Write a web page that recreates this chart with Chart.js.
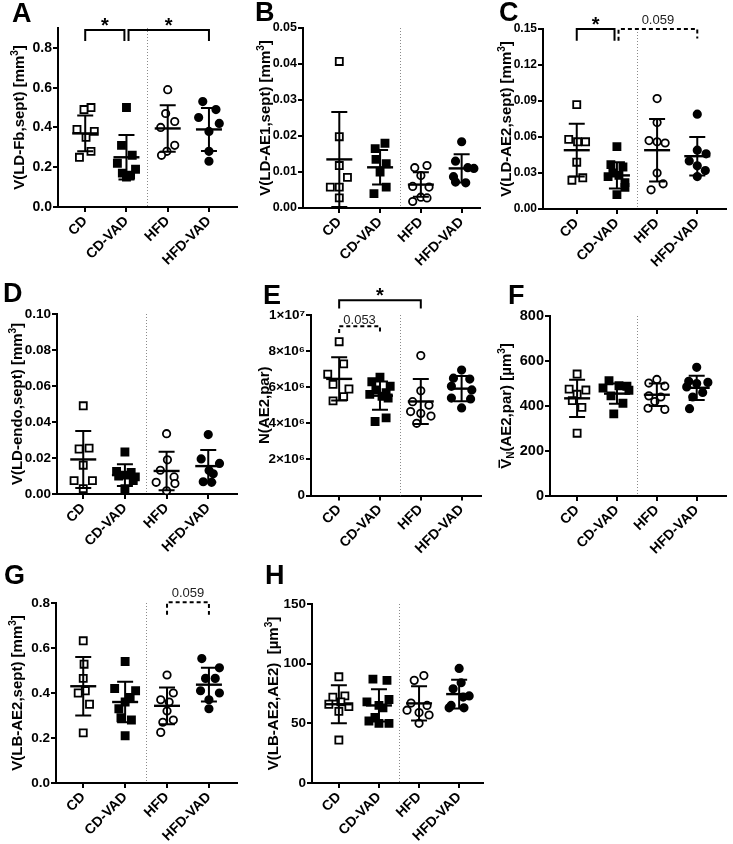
<!DOCTYPE html>
<html>
<head>
<meta charset="utf-8">
<script src="https://cdn.jsdelivr.net/npm/chart.js@4.4.1/dist/chart.umd.min.js"></script>
<style>
  body { margin: 0; background: #fff; }
  #fig { position: relative; width: 733px; height: 844px; overflow: hidden; font-family: 'Liberation Sans', Arial, sans-serif; }
  #fig canvas { position: absolute; }
  .letter { position: absolute; font-weight: bold; font-size: 27px; line-height: 1; color: #000; }
</style>
</head>
<body>
<div id="fig"></div>
<script>
// Groups, in plotting order: CD (open squares), CD-VAD (filled squares),
// HFD (open circles), HFD-VAD (filled circles).
const CATS = ["CD", "CD-VAD", "HFD", "HFD-VAD"];

// --- A: V(LD-Fb,sept) [mm3]
const A_VALUES = [
  [0.50, 0.49, 0.39, 0.38, 0.35, 0.28, 0.25],
  [0.50, 0.31, 0.26, 0.22, 0.19, 0.17, 0.16, 0.15],
  [0.59, 0.47, 0.43, 0.40, 0.31, 0.28, 0.26],
  [0.53, 0.49, 0.45, 0.42, 0.38, 0.28, 0.23],
];
const A_JITTER = [
  [0.14, -0.03, -0.2, 0.22, 0.02, 0.14, -0.14],
  [0, -0.12, 0.14, -0.22, 0.22, -0.1, 0.1, 0],
  [0, -0.05, 0.17, -0.17, 0.17, -0.02, -0.15],
  [-0.15, 0.17, -0.25, 0.25, 0, 0, 0],
];
const A_MEAN = [0.37, 0.25, 0.395, 0.39];
const A_SD = [0.09, 0.112, 0.117, 0.108];
const A_TICKS = [0, 0.2, 0.4, 0.6, 0.8];

// --- B: V(LD-AE1,sept) [mm3]
const B_VALUES = [
  [0.0407, 0.0198, 0.0118, 0.0085, 0.0058, 0.0058, 0.0028],
  [0.0180, 0.0165, 0.0135, 0.0123, 0.0100, 0.0058, 0.0040],
  [0.0118, 0.0112, 0.0090, 0.0060, 0.0058, 0.0030, 0.0018, 0.0028],
  [0.0184, 0.0130, 0.0112, 0.0110, 0.0087, 0.0072, 0.0070],
];
const B_JITTER = [
  [0, 0, 0, 0.2, -0.22, 0, 0],
  [0.12, -0.12, -0.1, 0.15, 0, 0.15, -0.15],
  [0.15, -0.15, 0, -0.2, 0.2, 0, -0.2, 0.15],
  [0, -0.15, 0.15, 0.3, -0.2, -0.15, 0.1],
];
const B_MEAN = [0.0135, 0.0113, 0.0065, 0.011];
const B_SD = [0.0132, 0.0048, 0.0034, 0.0039];
const B_TICKS = [0, 0.01, 0.02, 0.03, 0.04, 0.05];

// --- C: V(LD-AE2,sept) [mm3]
const C_VALUES = [
  [0.087, 0.058, 0.056, 0.056, 0.039, 0.026, 0.024],
  [0.052, 0.037, 0.035, 0.030, 0.028, 0.027, 0.022, 0.018, 0.012],
  [0.092, 0.072, 0.057, 0.056, 0.055, 0.030, 0.016, 0.021],
  [0.079, 0.049, 0.046, 0.040, 0.036, 0.032, 0.027],
];
const C_JITTER = [
  [0, -0.2, 0.02, 0.22, 0, 0.15, -0.12],
  [0, -0.15, 0.15, -0.1, 0.05, -0.22, 0.2, 0.2, 0],
  [0, 0, -0.2, 0, 0.2, 0, -0.15, 0.15],
  [0, 0, 0.22, -0.2, 0, 0.2, 0],
];
const C_MEAN = [0.049, 0.028, 0.049, 0.044];
const C_SD = [0.022, 0.011, 0.026, 0.016];
const C_TICKS = [0, 0.03, 0.06, 0.09, 0.12, 0.15];

// --- D: V(LD-endo,sept) [mm3]
const D_VALUES = [
  [0.049, 0.025, 0.0255, 0.016, 0.0074, 0.0074, 0.003],
  [0.0233, 0.0125, 0.012, 0.0105, 0.010, 0.0095, 0.0075, 0.003],
  [0.0335, 0.019, 0.0132, 0.0095, 0.0065, 0.0058, 0.0018],
  [0.033, 0.0195, 0.017, 0.013, 0.0112, 0.0068, 0.0065],
];
const D_JITTER = [
  [0, -0.1, 0.14, 0, -0.22, 0.22, 0],
  [0, -0.2, 0.15, 0, -0.15, 0.25, 0.2, 0],
  [0, 0.02, -0.15, 0.18, -0.25, 0.2, 0],
  [0, -0.17, 0.27, 0.02, 0.12, -0.12, 0.08],
];
const D_MEAN = [0.0192, 0.0105, 0.0128, 0.0155];
const D_SD = [0.0158, 0.006, 0.0107, 0.009];
const D_TICKS = [0, 0.02, 0.04, 0.06, 0.08, 0.10];

// --- E: N(AE2,par)
const E_VALUES = [
  [8.52e6, 7.29e6, 6.72e6, 6.16e6, 5.90e6, 5.48e6, 5.24e6],
  [6.55e6, 6.30e6, 6.05e6, 5.85e6, 5.70e6, 5.60e6, 5.50e6, 5.40e6, 4.30e6, 4.10e6],
  [7.75e6, 5.80e6, 5.20e6, 5.00e6, 4.65e6, 4.55e6, 4.40e6, 4.00e6],
  [6.95e6, 6.50e6, 6.45e6, 6.05e6, 5.85e6, 5.40e6, 5.35e6, 4.85e6],
];
const E_JITTER = [
  [0, 0.11, -0.28, -0.15, 0.24, 0.11, -0.15],
  [0, -0.2, 0.25, -0.1, 0.15, -0.25, 0.05, 0.2, 0.15, -0.12],
  [0, 0, -0.2, 0.2, -0.25, 0, 0.25, -0.1],
  [0, -0.2, 0.2, -0.25, 0.25, -0.25, 0.22, 0],
];
const E_MEAN = [6.46e6, 5.53e6, 5.21e6, 5.92e6];
const E_SD = [1.2e6, 0.78e6, 1.25e6, 0.7e6];
const E_TICKS = [0, 2e6, 4e6, 6e6, 8e6, 1e7];

// --- F: mean volume VN(AE2,par) [um3]
const F_VALUES = [
  [542, 475, 471, 452, 424, 394, 279],
  [512, 490, 488, 480, 470, 445, 412, 365],
  [518, 502, 488, 445, 440, 420, 390, 385],
  [572, 510, 505, 500, 485, 460, 440, 388],
];
const F_JITTER = [
  [0, -0.2, 0.22, 0, -0.12, 0.12, 0],
  [-0.2, 0.05, 0.25, -0.35, 0.3, -0.15, 0.15, -0.08],
  [0, -0.2, 0.2, -0.2, 0.1, -0.05, -0.22, 0.2],
  [0, -0.2, 0.28, 0, -0.25, 0.15, -0.1, -0.18],
];
const F_MEAN = [434, 455, 450, 481];
const F_SD = [83, 45, 50, 54];
const F_TICKS = [0, 200, 400, 600, 800];

// --- G: V(LB-AE2,sept) [mm3]
const G_VALUES = [
  [0.632, 0.528, 0.465, 0.41, 0.40, 0.35, 0.223],
  [0.54, 0.42, 0.41, 0.38, 0.36, 0.33, 0.29, 0.28, 0.21],
  [0.48, 0.40, 0.37, 0.36, 0.32, 0.28, 0.27, 0.225],
  [0.553, 0.512, 0.465, 0.465, 0.41, 0.40, 0.37, 0.33],
];
const G_JITTER = [
  [0, 0.02, 0, 0.05, -0.12, 0.15, 0],
  [0, -0.25, 0.25, 0.12, 0, -0.15, -0.1, 0.15, 0],
  [0, 0.15, -0.15, 0.05, 0, 0.15, -0.1, -0.15],
  [-0.17, 0.25, -0.08, 0.15, -0.2, 0.25, 0, 0],
];
const G_MEAN = [0.43, 0.36, 0.343, 0.437];
const G_SD = [0.13, 0.09, 0.082, 0.075];
const G_TICKS = [0, 0.2, 0.4, 0.6, 0.8];

// --- H: V(LB-AE2,AE2) [um3]
const H_VALUES = [
  [89, 73, 72, 68, 66, 64, 60, 36],
  [87, 86, 70, 68, 65, 63, 55, 52, 50, 50],
  [90, 86, 67, 65, 61, 59, 57, 50],
  [96, 84, 79, 73, 72, 65, 63, 63],
];
const H_JITTER = [
  [0, 0.15, -0.15, 0.05, -0.25, 0.25, 0, 0],
  [-0.15, 0.2, 0.25, -0.3, 0, 0.1, -0.1, -0.25, 0, 0.25],
  [0.12, -0.12, -0.2, 0.2, -0.3, 0, 0.25, 0],
  [0, 0.05, -0.15, 0.25, 0.1, -0.2, -0.25, 0.12],
];
const H_MEAN = [66, 65, 66.7, 74.5];
const H_SD = [16, 13.5, 14.3, 12];
const H_TICKS = [0, 50, 100, 150];

// canvas ctx.font can't take CSS vars, so spell the stack out
const FF = "'Liberation Sans', Arial, sans-serif";
Chart.defaults.font.family = FF;

const GROUP_STYLE = [
  { shape: "rect", fill: false },
  { shape: "rect", fill: true },
  { shape: "circle", fill: false },
  { shape: "circle", fill: true },
];

const SUP = { 6: "\u2076", 7: "\u2077" };
const sciFmt = (v) => {
  if (v === 0) return "0";
  const e = Math.floor(Math.log10(v));
  return Math.round(v / Math.pow(10, e)) + "\u00d710" + SUP[e];
};

// titles are lists of text runs so superscripts / subscripts / overbars work
const mm3 = (name) => [{ t: name + " [mm" }, { t: "3", sup: true }, { t: "]" }];

const PANELS = [
  {
    id: "A", letter: [12, -0.5], box: [0, 0, 245, 280],
    axisX: 58, xEnd: 237, yTop: 28, y0: 207, xmin: -0.66, xmax: 3.68, ymax: 0.9,
    ticks: A_TICKS, fmt: (v) => v.toFixed(1), tickSize: 14, titleX: 19, title: mm3("V(LD-Fb,sept)"),
    values: A_VALUES, jitter: A_JITTER, mean: A_MEAN, sd: A_SD,
    brackets: [
      { x1: 0, x2: 0.95, y: 0.89, l1: 0.835, l2: 0.835, label: "*" },
      { x1: 1.05, x2: 3, y: 0.89, l1: 0.835, l2: 0.835, label: "*" },
    ],
  },
  {
    id: "B", letter: [255, -1.5], box: [245, 0, 243, 280],
    axisX: 303, xEnd: 480, yTop: 28, y0: 208, xmin: -0.89, xmax: 3.45, ymax: 0.05,
    ticks: B_TICKS, fmt: (v) => v.toFixed(2), tickSize: 12.5, titleX: 265, title: mm3("V(LD-AE1,sept)"),
    values: B_VALUES, jitter: B_JITTER, mean: B_MEAN, sd: B_SD, brackets: [],
  },
  {
    id: "C", letter: [499, -1.5], box: [488, 0, 245, 280],
    axisX: 543, xEnd: 733, yTop: 29, y0: 209, xmin: -0.84, xmax: 3.72, ymax: 0.15,
    ticks: C_TICKS, fmt: (v) => v.toFixed(2), tickSize: 12, titleX: 506, title: mm3("V(LD-AE2,sept)"),
    values: C_VALUES, jitter: C_JITTER, mean: C_MEAN, sd: C_SD,
    brackets: [
      { x1: 0, x2: 0.94, y: 0.15, l1: 0.1403, l2: 0.1403, label: "*" },
      { x1: 1.04, x2: 3, y: 0.15, l1: 0.1403, l2: 0.142, label: "0.059", dashed: true, gap: 5 },
    ],
  },
  {
    id: "D", letter: [3, 279.5], box: [0, 280, 245, 280],
    axisX: 57, xEnd: 237, yTop: 314, y0: 494, xmin: -0.63, xmax: 3.69, ymax: 0.1,
    ticks: D_TICKS, fmt: (v) => v.toFixed(2), tickSize: 13.5, titleX: 17, title: mm3("V(LD-endo,sept)"),
    values: D_VALUES, jitter: D_JITTER, mean: D_MEAN, sd: D_SD, brackets: [],
  },
  {
    id: "E", letter: [263, 281.5], box: [245, 280, 243, 280],
    axisX: 311, xEnd: 483, yTop: 315, y0: 495.5, xmin: -0.69, xmax: 3.48, ymax: 1e7,
    ticks: E_TICKS, fmt: sciFmt, tickSize: 13.5, titleX: 264, title: [{ t: "N(AE2,par)" }],
    values: E_VALUES, jitter: E_JITTER, mean: E_MEAN, sd: E_SD,
    brackets: [
      { x1: 0, x2: 2, y: 10.82e6, l1: 10.36e6, l2: 10.36e6, label: "*" },
      { x1: 0, x2: 1, y: 9.38e6, l1: 9.0e6, l2: 9.0e6, label: "0.053", dashed: true, gap: 2 },
    ],
  },
  {
    id: "F", letter: [508, 281.5], box: [488, 280, 245, 280],
    axisX: 550, xEnd: 733, yTop: 316, y0: 496, xmin: -0.68, xmax: 3.74, ymax: 800,
    ticks: F_TICKS, fmt: (v) => String(v), tickSize: 14.5, titleX: 506,
    title: [{ t: "V", bar: true }, { t: "N", sub: true }, { t: "(AE2,par) [\u00b5m" }, { t: "3", sup: true }, { t: "]" }],
    values: F_VALUES, jitter: F_JITTER, mean: F_MEAN, sd: F_SD, brackets: [],
  },
  {
    id: "G", letter: [4, 561.5], box: [0, 560, 245, 284],
    axisX: 56, xEnd: 237, yTop: 603, y0: 783, xmin: -0.65, xmax: 3.67, ymax: 0.8,
    ticks: G_TICKS, fmt: (v) => v.toFixed(1), tickSize: 13.5, titleX: 17, title: mm3("V(LB-AE2,sept)"),
    values: G_VALUES, jitter: G_JITTER, mean: G_MEAN, sd: G_SD,
    brackets: [
      { x1: 2, x2: 3, y: 0.803, l1: 0.748, l2: 0.748, label: "0.059", dashed: true, gap: 5 },
    ],
  },
  {
    id: "H", letter: [265, 561.5], box: [245, 560, 245, 284],
    axisX: 312, xEnd: 490, yTop: 604, y0: 783, xmin: -0.67, xmax: 3.6, ymax: 150,
    ticks: H_TICKS, fmt: (v) => String(v), tickSize: 13.5, titleX: 273,
    title: [{ t: "V(LB-AE2,AE2)  [\u00b5m" }, { t: "3", sup: true }, { t: "]" }],
    values: H_VALUES, jitter: H_JITTER, mean: H_MEAN, sd: H_SD, brackets: [],
  },
];

function drawTitle(ctx, segs, cx, cy, size) {
  ctx.save();
  ctx.translate(cx, cy);
  ctx.rotate(-Math.PI / 2);
  ctx.fillStyle = "#000";
  ctx.textBaseline = "alphabetic";
  ctx.textAlign = "left";
  let total = 0;
  const parts = segs.map((s) => {
    const fs = s.sup || s.sub ? Math.round(size * 0.68) : size;
    ctx.font = "bold " + fs + "px " + FF;
    const w = ctx.measureText(s.t).width;
    total += w;
    return Object.assign({ fs, w }, s);
  });
  let x = -total / 2;
  const base = size * 0.36;
  parts.forEach((s) => {
    ctx.font = "bold " + s.fs + "px " + FF;
    let y = base;
    if (s.sup) y = base - size * 0.42;
    if (s.sub) y = base + size * 0.2;
    ctx.fillText(s.t, x, y);
    if (s.bar) {
      ctx.fillRect(x + 1, base - size * 0.86, s.w - 2, 1.5);
    }
    x += s.w;
  });
  ctx.restore();
}

function panelPlugin(p) {
  return {
    id: "panel" + p.id,
    beforeDatasetsDraw(chart) {
      // dotted separator between the CD and HFD diets
      const { ctx, chartArea: a, scales } = chart;
      const px = Math.round(scales.x.getPixelForValue(1.5)) + 0.5;
      ctx.save();
      ctx.strokeStyle = "#8a8a8a";
      ctx.lineWidth = 1;
      ctx.setLineDash([1, 2]);
      ctx.beginPath();
      ctx.moveTo(px, a.top);
      ctx.lineTo(px, a.bottom);
      ctx.stroke();
      ctx.restore();
    },
    afterDatasetsDraw(chart) {
      // mean +/- SD on top of the dots
      const { ctx, scales: { x, y } } = chart;
      ctx.save();
      ctx.strokeStyle = "#000";
      ctx.lineWidth = 2;
      p.mean.forEach((m, g) => {
        const cx = x.getPixelForValue(g);
        const my = y.getPixelForValue(m);
        const hi = y.getPixelForValue(m + p.sd[g]);
        const lo = y.getPixelForValue(m - p.sd[g]);
        ctx.beginPath();
        ctx.moveTo(cx, hi); ctx.lineTo(cx, lo);
        ctx.moveTo(cx - 8, hi); ctx.lineTo(cx + 8, hi);
        ctx.moveTo(cx - 8, lo); ctx.lineTo(cx + 8, lo);
        ctx.stroke();
        ctx.lineWidth = 2.4;
        ctx.beginPath();
        ctx.moveTo(cx - 13, my); ctx.lineTo(cx + 13, my);
        ctx.stroke();
        ctx.lineWidth = 2;
      });
      ctx.restore();
    },
    afterDraw(chart) {
      const { ctx, chartArea: a, scales: { x, y } } = chart;
      ctx.save();
      p.brackets.forEach((b) => {
        const x1 = x.getPixelForValue(b.x1), x2 = x.getPixelForValue(b.x2);
        const by = y.getPixelForValue(b.y);
        ctx.strokeStyle = "#000";
        ctx.lineWidth = 2;
        ctx.setLineDash(b.dashed ? [4, 3] : []);
        ctx.beginPath();
        ctx.moveTo(x1, y.getPixelForValue(b.l1));
        ctx.lineTo(x1, by);
        ctx.lineTo(x2, by);
        ctx.lineTo(x2, y.getPixelForValue(b.l2));
        ctx.stroke();
        ctx.setLineDash([]);
        ctx.fillStyle = "#000";
        ctx.textAlign = "center";
        ctx.textBaseline = "alphabetic";
        if (b.label === "*") {
          ctx.font = "bold 20px " + FF;
          ctx.fillText("*", (x1 + x2) / 2, by + 2);
        } else {
          ctx.font = "13px " + FF;
          ctx.fillStyle = "#222";
          ctx.fillText(b.label, (x1 + x2) / 2, by - (b.gap || 4));
        }
      });
      ctx.restore();
      drawTitle(ctx, p.title, p.titleX - p.box[0], (a.top + a.bottom) / 2, 15);
    },
  };
}

const fig = document.getElementById("fig");

PANELS.forEach((p) => {
  const [L, T, W, H] = p.box;
  const cv = document.createElement("canvas");
  cv.width = W;
  cv.height = H;
  cv.style.left = L + "px";
  cv.style.top = T + "px";
  fig.appendChild(cv);

  const lt = document.createElement("div");
  lt.className = "letter";
  lt.textContent = p.id;
  lt.style.left = p.letter[0] + "px";
  lt.style.top = p.letter[1] + "px";
  fig.appendChild(lt);

  const datasets = p.values.map((vals, g) => {
    const st = GROUP_STYLE[g];
    return {
      label: CATS[g],
      data: vals.map((v, k) => ({ x: g + p.jitter[g][k], y: v })),
      pointStyle: st.shape,
      pointRadius: st.shape === "rect" ? 5 : 3.7,
      borderWidth: 1.8,
      borderColor: "#000",
      backgroundColor: st.fill ? "#000" : "#fff",
      clip: false,
    };
  });

  const axisGrid = { drawOnChartArea: false, color: "#000", lineWidth: 2, tickLength: 5 };
  const axisBorder = { color: "#000", width: 2 };

  new Chart(cv, {
    type: "scatter",
    data: { datasets },
    options: {
      responsive: false,
      animation: false,
      devicePixelRatio: 1,
      layout: { padding: { top: p.yTop - T, right: L + W - p.xEnd, left: 0, bottom: 0 } },
      plugins: { legend: { display: false }, tooltip: { enabled: false } },
      scales: {
        x: {
          type: "linear",
          min: p.xmin,
          max: p.xmax,
          afterBuildTicks: (ax) => { ax.ticks = CATS.map((_, i) => ({ value: i })); },
          afterFit: (ax) => { ax.height = T + H - p.y0; },
          ticks: {
            callback: (v) => CATS[v],
            minRotation: 45,
            maxRotation: 45,
            autoSkip: false,
            color: "#000",
            font: { size: 14, weight: "bold" },
            padding: 1,
          },
          grid: axisGrid,
          border: axisBorder,
        },
        y: {
          type: "linear",
          min: 0,
          max: p.ymax,
          afterBuildTicks: (ax) => { ax.ticks = p.ticks.map((v) => ({ value: v })); },
          afterFit: (ax) => { ax.width = p.axisX - L; },
          ticks: {
            callback: p.fmt,
            color: "#000",
            font: { size: p.tickSize || 12, weight: "bold" },
            padding: 1,
          },
          grid: axisGrid,
          border: axisBorder,
        },
      },
    },
    plugins: [panelPlugin(p)],
  });
});
</script>
</body>
</html>
